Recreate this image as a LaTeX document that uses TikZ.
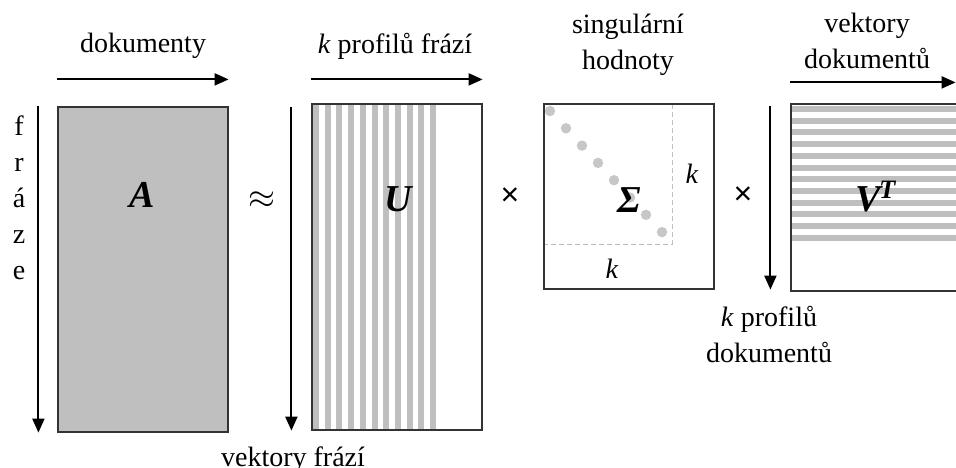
\documentclass[tikz,border=0pt]{standalone}
\usepackage{fontspec}
\setmainfont{Liberation Serif}
\newfontfamily\sansx{Liberation Sans}
\usetikzlibrary{positioning,arrows.meta}

\tikzset{
  mat/.style={draw=black!80, line width=0.6pt, minimum width=85pt, inner sep=0pt},
  vec/.style={-{Triangle[length=7pt,width=6pt]}, line width=1pt},
  stripe/.style={fill=black!25},
  dot/.style={fill=black!22},
  guide/.style={draw=black!25, dash pattern=on 2.5pt off 1.5pt, line width=0.5pt},
  lbl/.style={font=\fontsize{14}{18}\selectfont, inner sep=0pt, align=center, anchor=base},
  sym/.style={font=\fontsize{19}{20}\selectfont\bfseries\itshape, inner sep=0pt, anchor=base},
  op/.style={font=\fontsize{19}{20}\selectfont, inner sep=0pt},
}

\begin{document}
\begin{tikzpicture}[x=0.5pt, y=-0.5pt]
    \clip (0,0) rectangle (956,467);
    \fill[white] (0,0) rectangle (956,467);

    \node[mat, fill=black!25, minimum height=162.5pt] (A) at (143,269.5) {};
    \foreach \i in {0,...,10}
        \fill[stripe] ({313+\i*11.7},104) rectangle ++(6,326);
    \node[mat, minimum height=163pt] (U) at (397,267) {};
    \foreach \i in {0,...,7}
        \fill[dot] ({550+\i*16},{111+\i*17.3}) circle (2.6pt);
    \draw[guide] (672,104) -- (672,244) -- (544,244);
    \node[mat, minimum height=92.5pt] (S) at (629,196.5) {};
    \foreach \i in {0,...,11}
        \fill[stripe] (791,{106+\i*11.7}) rectangle ++(170,6);
    \node[mat, minimum height=93.5pt] (V) at (876,197.5) {};

    \node[sym] (lA) at (142,207) {A};
    \node[sym] (lU) at (398,211) {U};
    \node[sym] (lS) at (629,212) {Σ};
    \node[sym] (lV) at (876,211) {V\textsuperscript{\kern-1pt T}};
    \node[op] (approx) at (262,200) {$\approx$};
    \node[op, font=\sansx\fontsize{16}{18}\selectfont] (times1) at (510,197) {×};
    \node[op, font=\sansx\fontsize{16}{18}\selectfont] (times2) at (743,196) {×};
    \node[lbl] (kr) at (692,183) {\textit{k}};
    \node[lbl] (kb) at (612,278) {\textit{k}};

    \draw[vec] ([yshift=13.5pt]A.north west) -- ([yshift=13.5pt]A.north east);
    \draw[vec] ([yshift=12pt]U.north west) -- ([yshift=12pt]U.north east);
    \draw[vec] ([yshift=10.5pt]V.north west) -- ([xshift=-3pt,yshift=10.5pt]V.north east);
    \draw[vec] ([xshift=-9.5pt]A.north west) -- ([xshift=-9.5pt]A.south west);
    \draw[vec] ([xshift=-10pt,yshift=-2pt]U.north west) -- ([xshift=-10pt]U.south west);
    \draw[vec] ([xshift=-10pt,yshift=-1.5pt]V.north west) -- ([xshift=-10pt,yshift=1pt]V.south west);

    \node[lbl] (tdok) at (143,52) {dokumenty};
    \node[lbl] (tpf) at (395,53) {\textit{k} profilů frází};
    \node[lbl] (tsh) at (628,69) {singulární\\hodnoty};
    \node[lbl] (tvd) at (867,68) {vektory\\dokumentů};
    \node[lbl] (tfr) at (19,279) {f\\r\\á\\z\\e};
    \node[lbl] (tvf) at (293,466) {vektory frází};
    \node[lbl] (tkd) at (769,362) {\textit{k} profilů\\dokumentů};
\end{tikzpicture}
\end{document}
